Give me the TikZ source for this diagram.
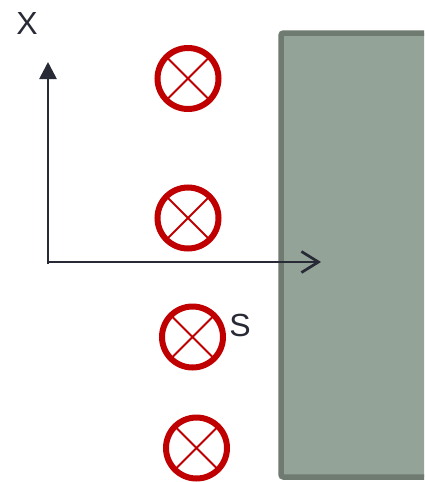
\documentclass[tikz,border=0pt]{standalone}
\usepackage{fontspec}
\setmainfont{Liberation Sans}
\usetikzlibrary{arrows.meta}
\definecolor{wirered}{RGB}{192,0,0}
\definecolor{slabfill}{RGB}{148,163,151}
\definecolor{slabedge}{RGB}{111,122,112}
\definecolor{axisink}{RGB}{40,42,54}
\tikzset{
  wire/.style={circle, draw=wirered, line width=6pt, minimum size=61pt, inner sep=0pt, fill=white,
    path picture={\draw[wirered, line width=1.8pt]
      (path picture bounding box.north west) -- (path picture bounding box.south east)
      (path picture bounding box.north east) -- (path picture bounding box.south west);}},
  axis/.style={draw=axisink, line width=2.7pt},
  lbl/.style={text=axisink, inner sep=0pt, font=\fontsize{32}{34}\selectfont}
}
\begin{document}
\begin{tikzpicture}[x=1pt,y=1pt]
\useasboundingbox (0,0) rectangle (424,-482);
\begin{scope}
\clip (0,0) rectangle (424,-482);
\draw[fill=slabfill, draw=slabedge, line width=5.5pt, rounded corners=2.5pt] (281,-33) rectangle (450,-477);
\end{scope}
\node[wire] (w1) at (188,-78.5) {};
\node[wire] (w2) at (188,-218) {};
\node[wire] (w3) at (192.5,-337) {};
\node[wire] (w4) at (196.5,-448) {};
\coordinate (o) at (48,-264);
\coordinate (xt) at (48,-62);
\coordinate (zt) at (321,-262);
\draw[axis, -{Triangle[length=17pt,width=17pt]}] (o) -- (xt);
\draw[axis, -{Straight Barb[length=17pt,width=21pt,line width=2.7pt]}] ([xshift=-1.35pt]o |- zt) -- (zt);
\node[lbl] (xl) at (27,-23) {X};
\node[lbl] (sl) at (240,-325) {S};
\end{tikzpicture}
\end{document}
